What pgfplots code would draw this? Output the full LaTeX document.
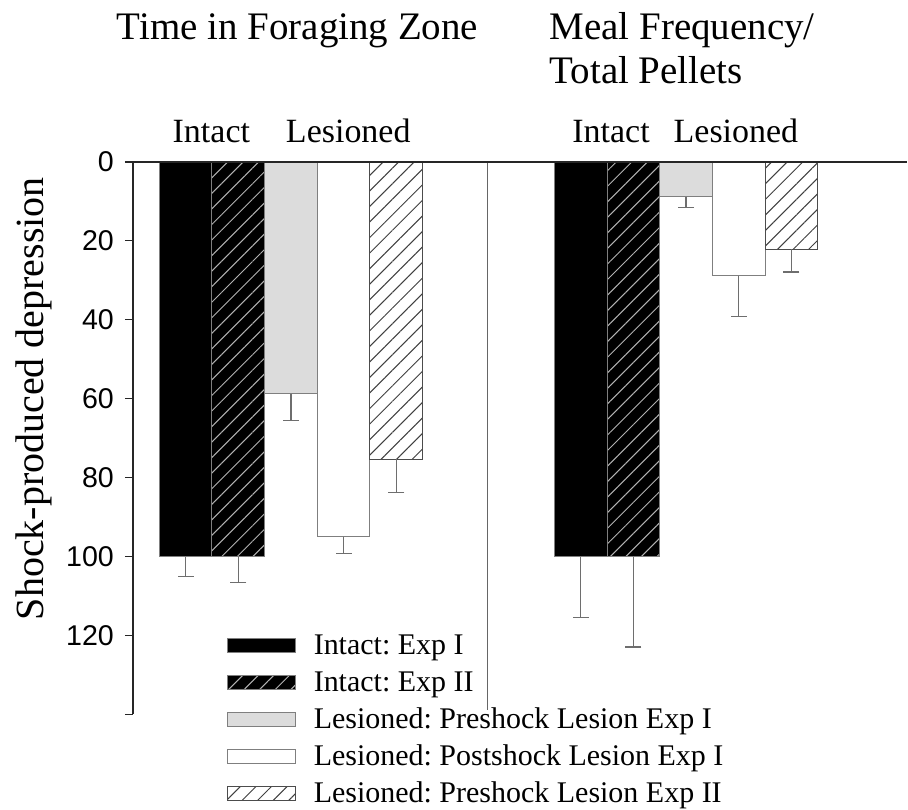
\documentclass[border=0pt]{standalone}
\usepackage{fontspec}
\setmainfont{Liberation Serif}
\newfontfamily\arialfont{Liberation Sans}
\usepackage{pgfplots}
\pgfplotsset{compat=1.18}
\usetikzlibrary{patterns.meta}
\definecolor{barline}{HTML}{7F7F7F}
\definecolor{ltgray}{HTML}{DCDCDC}
\definecolor{errcol}{HTML}{6E6E6E}
\pgfplotsset{
  legbox/.style={legend image code/.code={\draw[##1] (0pt,-4.95pt) rectangle (34pt,2.05pt);}},
  eb/.style={error bars/.cd, y dir=plus, y explicit,
     error bar style={errcol, line width=0.6pt},
     error mark options={rotate=90, mark size=4pt, errcol, line width=0.6pt}},
}
\frenchspacing
\begin{document}
\begin{tikzpicture}
\begin{axis}[
  scale only axis, width=387.5pt, height=276.5pt,
  xmin=0, xmax=14.7, ymin=0, ymax=140, y dir=reverse,
  axis x line=none, axis y line*=left,
  xtick=\empty,
  ytick={0,20,40,60,80,100,120},
  extra y ticks={140}, extra y tick labels={},
  tick align=outside, major tick length=4pt,
  y axis line style={black!85, line width=0.7pt},
  ytick style={black!85, line width=0.7pt},
  extra y tick style={tick style={black!85, line width=0.7pt}},
  yticklabel style={font=\arialfont\fontsize{14.3}{16}\selectfont, xshift=-2pt},
  /pgf/number format/assume math mode=true,
  clip=false,
  ybar, bar width=1,
  legend style={draw=none, fill=none, inner sep=0pt, outer sep=0pt,
    at={(axis cs:1.783,164.05)}, anchor=south west,
    font=\fontsize{15}{18}\selectfont, row sep=0pt, column sep=9pt,
    nodes={inner sep=0pt, text height=15.2pt, text depth=3.3pt}},
  legend cell align=left,
]
\addplot[sharp plot, forget plot, black!60, line width=0.5pt] coordinates {(6.74,0) (6.74,139)};

\addplot[bar shift=0pt, fill=black, draw=barline, line width=0.5pt, legbox, eb]
  coordinates {(1,100) +- (0,5) (8.5,100) +- (0,15.5)};
\addlegendentry{Intact: Exp I}
\addplot[bar shift=0pt, fill=black, draw=barline, line width=0.5pt,
  postaction={pattern color=black!30, pattern={Lines[angle=45,distance=5.5pt,line width=0.5pt]}}, legbox, eb]
  coordinates {(2,100) +- (0,6.5) (9.5,100) +- (0,22.9)};
\addlegendentry{Intact: Exp II}
\addplot[bar shift=0pt, fill=ltgray, draw=barline, line width=0.5pt, legbox, eb]
  coordinates {(3,58.8) +- (0,6.7) (10.5,8.9) +- (0,2.6)};
\addlegendentry{Lesioned: Preshock Lesion Exp I}
\addplot[bar shift=0pt, fill=white, draw=barline, line width=0.5pt, legbox, eb]
  coordinates {(4,95.0) +- (0,4.2) (11.5,28.9) +- (0,10.3)};
\addlegendentry{Lesioned: Postshock Lesion Exp I}
\addplot[bar shift=0pt, fill=white, draw=black!70, line width=0.5pt,
  postaction={pattern color=black!75, pattern={Lines[angle=45,distance=5.5pt,line width=0.5pt]}}, legbox, eb]
  coordinates {(5,75.4) +- (0,8.3) (12.5,22.1) +- (0,5.8)};
\addlegendentry{Lesioned: Preshock Lesion Exp II}

\addplot[sharp plot, forget plot, black!85, line width=0.7pt] coordinates {(0,0) (14.7,0)};

\node[anchor=base west, font=\fontsize{19.5}{23}\selectfont] at (axis cs:-0.436,-30.9) {Time in Foraging Zone};
\node[anchor=base west, font=\fontsize{19.5}{23}\selectfont] at (axis cs:7.777,-30.9) {Meal Frequency/};
\node[anchor=base west, font=\fontsize{19.5}{23}\selectfont] at (axis cs:7.777,-19.9) {Total Pellets};
\node[anchor=base, font=\fontsize{17}{20}\selectfont] at (axis cs:1.489,-4.81) {Intact};
\node[anchor=base, font=\fontsize{17}{20}\selectfont] at (axis cs:4.088,-4.81) {Lesioned};
\node[anchor=base, font=\fontsize{17}{20}\selectfont] at (axis cs:9.076,-4.81) {Intact};
\node[anchor=base, font=\fontsize{17}{20}\selectfont] at (axis cs:11.447,-4.81) {Lesioned};
\node[rotate=90, anchor=base, font=\fontsize{20}{24}\selectfont] at (axis cs:-1.69,60.0) {Shock-produced depression};

\path (axis cs:-2.523,-41.0) rectangle (axis cs:14.7,164.05);
\end{axis}
\end{tikzpicture}
\end{document}
